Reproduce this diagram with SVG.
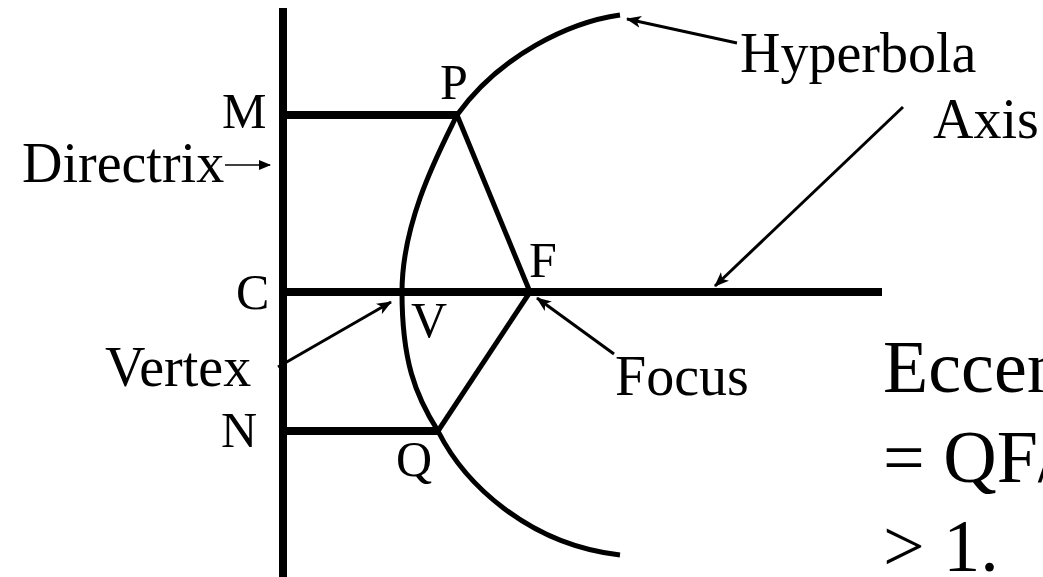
<svg xmlns="http://www.w3.org/2000/svg" width="1043" height="577" viewBox="0 0 1043 577">
<defs>
<style>
.t{font-family:"Liberation Serif","Times New Roman",serif;fill:#000}
.lbl{font-size:50px}
.big{font-size:56px}
.ecc{font-size:74px}
.thick{stroke:#000;stroke-width:8;fill:none}
.med{stroke:#000;stroke-width:5;fill:none;stroke-linejoin:round}
.arr{stroke:#000;stroke-width:3;fill:none}
</style>
<marker id="ah" markerUnits="userSpaceOnUse" markerWidth="16" markerHeight="12" refX="14" refY="6" orient="auto">
<path d="M0,0 L15,6 L0,12 L4,6 z" fill="#000"/>
</marker>
<marker id="ahs" markerUnits="userSpaceOnUse" markerWidth="12" markerHeight="10" refX="11" refY="5" orient="auto">
<path d="M0,0 L12,5 L0,10 z" fill="#000"/>
</marker>
</defs>
<rect width="1043" height="577" fill="#fff"/>
<g id="directrix-line"><line class="thick" x1="283" y1="8" x2="283" y2="577"/></g>
<g id="axis-line"><line class="thick" x1="283" y1="292" x2="882" y2="292"/></g>
<g id="connectors">
<line class="thick" x1="283" y1="115" x2="457" y2="115"/>
<line class="thick" x1="283" y1="431" x2="438" y2="431"/>
<line class="med" x1="457" y1="115" x2="530" y2="292"/>
<line class="med" x1="530" y1="292" x2="438" y2="431"/>
<line class="arr" x1="737" y1="43" x2="627" y2="19" marker-end="url(#ah)"/>
<line class="arr" x1="903" y1="107" x2="715" y2="286" marker-end="url(#ah)"/>
<line class="arr" x1="614" y1="354" x2="537" y2="298" marker-end="url(#ah)"/>
<line class="arr" x1="278" y1="367" x2="391" y2="302" marker-end="url(#ah)"/>
<line stroke="#000" stroke-width="1.6" x1="225" y1="165" x2="270" y2="165" marker-end="url(#ahs)"/>
</g>
<g id="hyperbola"><path class="med" d="M620 15 C570 22,500 55,457 115 C440 150,402 220,402 292 C402 360,415 395,438 431 C465 485,530 545,620 555"/></g>
<g id="labels">
<text class="t lbl" x="222" y="128">M</text>
<text class="t lbl" x="236" y="309">C</text>
<text class="t lbl" x="221" y="447">N</text>
<text class="t lbl" x="440" y="99">P</text>
<text class="t lbl" x="396" y="476">Q</text>
<text class="t lbl" x="529" y="277">F</text>
<text class="t lbl" x="411" y="337">V</text>
<text class="t big" x="22" y="182">Directrix</text>
<text class="t big" x="105" y="386">Vertex</text>
<text class="t big" x="615" y="395">Focus</text>
<text class="t big" x="740" y="72">Hyperbola</text>
<text class="t big" x="933" y="138">Axis</text>
</g>
<g id="eccentricity">
<text class="t ecc" x="883" y="392">Eccen</text>
<text class="t ecc" x="883" y="482">= QF/</text>
<text class="t ecc" x="883" y="571">&gt; 1.</text>
</g>
</svg>
